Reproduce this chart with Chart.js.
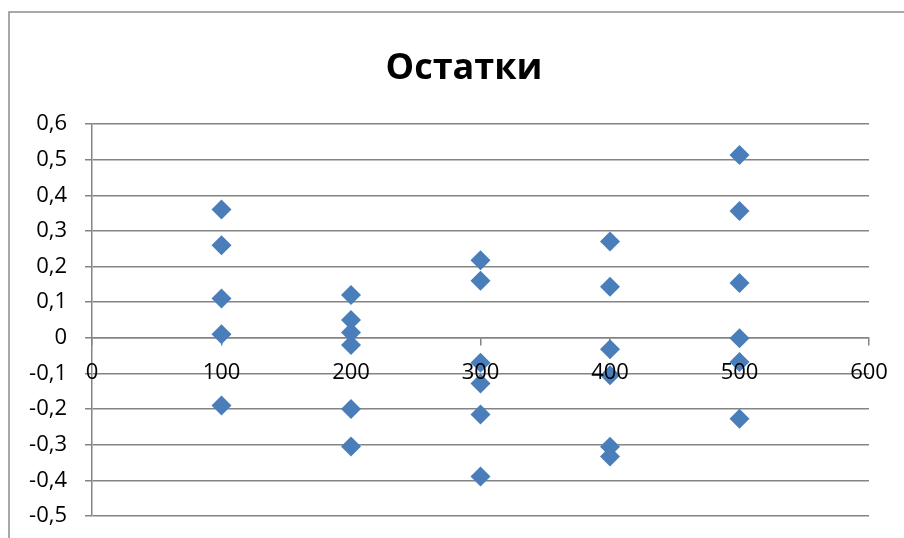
<!DOCTYPE html>
<html>
<head>
<meta charset="utf-8">
<script src="https://cdn.jsdelivr.net/npm/chart.js@4.4.1/dist/chart.umd.min.js"></script>
<style>
  html, body { margin: 0; padding: 0; background: #ffffff; }
  #wrap { width: 904px; height: 538px; }
</style>
</head>
<body>
<div id="wrap"><canvas id="chart" width="904" height="538"></canvas></div>
<script>
// Levels of the factor (x) and the residuals observed at each level
const levels = [100, 200, 300, 400, 500];
const residuals100 = [0.36, 0.26, 0.11, 0.01, -0.19];
const residuals200 = [0.12, 0.05, 0.015, -0.02, -0.2, -0.305];
const residuals300 = [0.218, 0.16, -0.07, -0.128, -0.215, -0.389];
const residuals400 = [0.27, 0.143, -0.032, -0.105, -0.306, -0.333];
const residuals500 = [0.513, 0.356, 0.154, -0.001, -0.068, -0.227];

// Axis ticks and their labels (decimal comma)
const xTicks = [0, 100, 200, 300, 400, 500, 600];
const xTickLabels = ['0', '100', '200', '300', '400', '500', '600'];
const yTicks = [-0.5, -0.4, -0.3, -0.2, -0.1, 0, 0.1, 0.2, 0.3, 0.4, 0.5, 0.6];
const yTickLabels = ['-0,5', '-0,4', '-0,3', '-0,2', '-0,1', '0', '0,1', '0,2', '0,3', '0,4', '0,5', '0,6'];

const titleText = 'Остатки';

const groups = [residuals100, residuals200, residuals300, residuals400, residuals500];
const points = [];
groups.forEach((vals, i) => vals.forEach(v => points.push({ x: levels[i], y: v })));

function labelFor(value, ticks, labels) {
  for (let i = 0; i < ticks.length; i++) {
    if (Math.abs(ticks[i] - value) < 1e-6) return labels[i];
  }
  return '';
}

const GRID = '#848484';
const FONT = "'Open Sans', 'DejaVu Sans', sans-serif";

// White background, outer chart frame (left and top edges) and the chart title
const framePlugin = {
  id: 'frame',
  beforeDraw(chart) {
    const ctx = chart.ctx;
    ctx.save();
    ctx.fillStyle = '#ffffff';
    ctx.fillRect(0, 0, chart.width, chart.height);
    ctx.strokeStyle = '#8c8c8c';
    ctx.lineWidth = 1.5;
    ctx.beginPath();
    ctx.moveTo(9, chart.height + 5);
    ctx.lineTo(9, 12);
    ctx.lineTo(chart.width + 5, 12);
    ctx.stroke();

    ctx.fillStyle = '#000000';
    ctx.font = 'bold 36px ' + FONT;
    ctx.textAlign = 'center';
    ctx.textBaseline = 'middle';
    ctx.fillText(titleText, 464, 68.5);
    ctx.restore();
  }
};

new Chart(document.getElementById('chart'), {
  type: 'scatter',
  data: {
    datasets: [{
      label: titleText,
      data: points,
      pointStyle: 'rectRot',
      pointRadius: 10,
      pointBorderWidth: 0,
      backgroundColor: '#4A7EBB',
      borderColor: '#4A7EBB'
    }]
  },
  options: {
    responsive: false,
    animation: false,
    events: [],
    layout: { padding: { left: 0, right: 35, top: 124, bottom: 22 } },
    plugins: {
      legend: { display: false },
      tooltip: { enabled: false },
      title: { display: false }
    },
    scales: {
      x: {
        type: 'linear',
        position: { y: 0 },
        min: 0,
        max: 600,
        afterBuildTicks(scale) { scale.ticks = xTicks.map(v => ({ value: v })); },
        afterFit(scale) {
          scale.paddingLeft = 0;
          scale.paddingRight = 0;
        },
        ticks: {
          z: 1,
          color: '#000000',
          font: { family: FONT, size: 22 },
          padding: 15,
          maxRotation: 0,
          autoSkip: false,
          callback: v => labelFor(v, xTicks, xTickLabels)
        },
        grid: { drawOnChartArea: false, drawTicks: true, tickLength: 7, color: GRID, lineWidth: 1.5 },
        border: { display: true, color: GRID, width: 1.5 }
      },
      y: {
        type: 'linear',
        position: 'left',
        min: -0.5,
        max: 0.6,
        afterBuildTicks(scale) { scale.ticks = yTicks.map(v => ({ value: v })); },
        afterFit(scale) {
          scale.width = 92;
          scale.paddingTop = 0;
          scale.paddingBottom = 0;
        },
        ticks: {
          color: '#000000',
          font: { family: FONT, size: 22 },
          padding: 18,
          autoSkip: false,
          callback: v => labelFor(v, yTicks, yTickLabels)
        },
        grid: { drawOnChartArea: true, drawTicks: true, tickLength: 7, color: GRID, lineWidth: 1.5 },
        border: { display: true, color: GRID, width: 1.5 }
      }
    }
  },
  plugins: [framePlugin]
});
</script>
</body>
</html>
